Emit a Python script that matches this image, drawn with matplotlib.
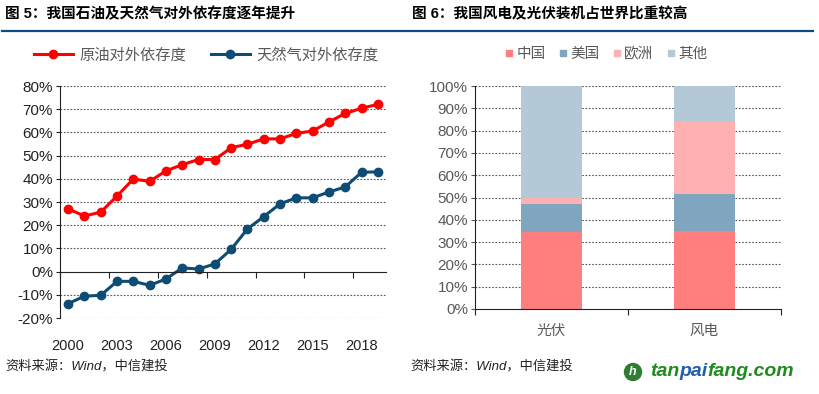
import numpy as np
import matplotlib
matplotlib.use("Agg")
import matplotlib.pyplot as plt
from matplotlib.lines import Line2D
from matplotlib.patches import Ellipse

plt.rcParams['font.family'] = ['Liberation Sans', 'Noto Sans CJK SC']

# left chart data
years = list(range(2000, 2020))
oil = [27.0, 24.0, 25.6, 32.6, 39.9, 38.9, 43.4, 46.1, 48.3, 48.3,
       53.4, 54.9, 57.2, 57.2, 59.6, 60.6, 64.5, 68.2, 70.4, 72.1]
gas = [-13.8, -10.6, -10.2, -4.2, -4.2, -5.9, -3.2, 1.6, 1.1, 3.3,
       9.6, 18.4, 23.7, 29.2, 31.8, 31.8, 34.3, 36.5, 42.8, 43.0]
year_labels = ['2000', '2003', '2006', '2009', '2012', '2015', '2018']

# right chart data
cats = ['光伏', '风电']
regions = ['中国', '美国', '欧洲', '其他']
china = [34.7, 35.0]
usa = [12.2, 16.7]
europe = [2.7, 32.2]
other = [50.4, 16.1]
region_colors = ['#FF7F7F', '#7FA5BF', '#FFB1B1', '#B4C9D7']

red = '#FF0000'
blue = '#0F4C75'
grey = '#595959'

fig = plt.figure(figsize=(8.2, 3.94), dpi=100)

# ---- titles + rule line
fig.text(0.006, 1 - 14/394, '图 5：我国石油及天然气对外依存度逐年提升', fontsize=10.5,
         fontweight='bold', va='center', ha='left')
fig.text(0.502, 1 - 14/394, '图 6：我国风电及光伏装机占世界比重较高', fontsize=10.5,
         fontweight='bold', va='center', ha='left')
fig.add_artist(Line2D([0.003, 0.992], [1 - 31/394] * 2, color='#0B4C86', lw=1.6))

# ---- left chart
ax = fig.add_axes([60/820, 1 - 318/394, 326/820, 232/394])
x = np.arange(len(years))
ax.plot(x, oil, color=red, lw=2.2, marker='o', ms=6, label='原油对外依存度')
ax.plot(x, gas, color=blue, lw=2.2, marker='o', ms=6, label='天然气对外依存度')
ax.set_xlim(-0.5, len(years) - 0.5)
ax.set_ylim(-20, 80)
ax.set_yticks(np.arange(-20, 81, 10))
ax.set_yticklabels([f'{v}%' for v in range(-20, 81, 10)])
ax.tick_params(axis='y', direction='out', length=3, labelsize=11, colors='#222222', pad=2)
for v in range(-20, 81, 10):
    if v != 0:
        ax.axhline(v, color='#555555', lw=0.8, ls=(0, (1.5, 1.5)), zorder=0)
ax.spines['top'].set_visible(False)
ax.spines['right'].set_visible(False)
ax.spines['bottom'].set_position(('data', 0))
ax.spines['left'].set_color('#222222')
ax.spines['bottom'].set_color('#222222')
ax.set_xticks(np.arange(-0.5, len(years), 3))
ax.set_xticklabels([])
ax.tick_params(axis='x', direction='out', length=4, colors='#222222')
for lab in year_labels:
    ax.text(years.index(int(lab)), -0.12, lab, transform=ax.get_xaxis_transform(),
            ha='center', va='center', fontsize=10.5, color='#222222')
fig.legend(loc='center', bbox_to_anchor=(206/820, 1 - 55/394), ncol=2, frameon=False,
           fontsize=11, labelcolor=grey, handlelength=2.6, columnspacing=1.6,
           handletextpad=0.4)

# ---- right chart
ax2 = fig.add_axes([475/820, 1 - 309/394, 306/820, 223/394])
xc = np.arange(len(cats))
bottom = np.zeros(len(cats))
for name, vals, col in zip(regions, [china, usa, europe, other], region_colors):
    ax2.bar(xc, vals, 0.4, bottom=bottom, color=col, label=name, zorder=2)
    bottom += np.array(vals)
ax2.set_xlim(-0.5, 1.5)
ax2.set_ylim(0, 100)
ax2.set_yticks(np.arange(0, 101, 10))
ax2.set_yticklabels([f'{v}%' for v in range(0, 101, 10)])
ax2.tick_params(axis='y', direction='out', length=3, labelsize=11, colors=grey, pad=2)
for v in range(10, 101, 10):
    ax2.axhline(v, color='#555555', lw=0.8, ls=(0, (1.5, 1.5)), zorder=1)
ax2.spines['top'].set_visible(False)
ax2.spines['right'].set_visible(False)
ax2.spines['left'].set_color('#222222')
ax2.spines['bottom'].set_color('#222222')
ax2.spines['left'].set_zorder(3)
ax2.set_xticks([-0.5, 0.5, 1.5])
ax2.set_xticklabels([])
ax2.tick_params(axis='x', direction='out', length=4, colors='#222222')
for i, c in enumerate(cats):
    ax2.text(i, -0.1, c, transform=ax2.get_xaxis_transform(), ha='center', va='center',
             fontsize=10.5, color=grey)
handles = [Line2D([], [], ls='none', marker='s', ms=5, color=c) for c in region_colors]
fig.legend(handles, regions, loc='center', bbox_to_anchor=(606/820, 1 - 54/394), ncol=4,
           frameon=False, fontsize=10.5, labelcolor=grey, handlelength=0.6,
           handletextpad=0.2, columnspacing=0.9)

# ---- sources
fig.text(0.006, 1 - 367/394, '资料来源：Wind，中信建投', fontsize=9.5, style='italic',
         va='center', ha='left', color='#222222')
fig.text(0.5, 1 - 367/394, '资料来源：Wind，中信建投', fontsize=9.5, style='italic',
         va='center', ha='left', color='#222222')

# ---- watermark logo
fig.add_artist(Ellipse((633/820, 1 - 372/394), 17/820, 17/394, color='#2E7D32'))
fig.text(633/820, 1 - 372/394, 'h', color='white', fontsize=9, fontweight='bold',
         style='italic', ha='center', va='center')
t1 = fig.text(650/820, 1 - 380/394, 'tan', fontsize=14, fontweight='bold', style='italic',
              color='#1E8C1E', ha='left', va='bottom')
a1 = plt.annotate('pai', xy=(1, 0), xycoords=t1, fontsize=14, fontweight='bold',
                  style='italic', color='#1F5FAF', ha='left', va='bottom')
a2 = plt.annotate('fang.com', xy=(1, 0), xycoords=a1, fontsize=14, fontweight='bold',
                  style='italic', color='#1E8C1E', ha='left', va='bottom')

fig.savefig('out.png', dpi=100)
